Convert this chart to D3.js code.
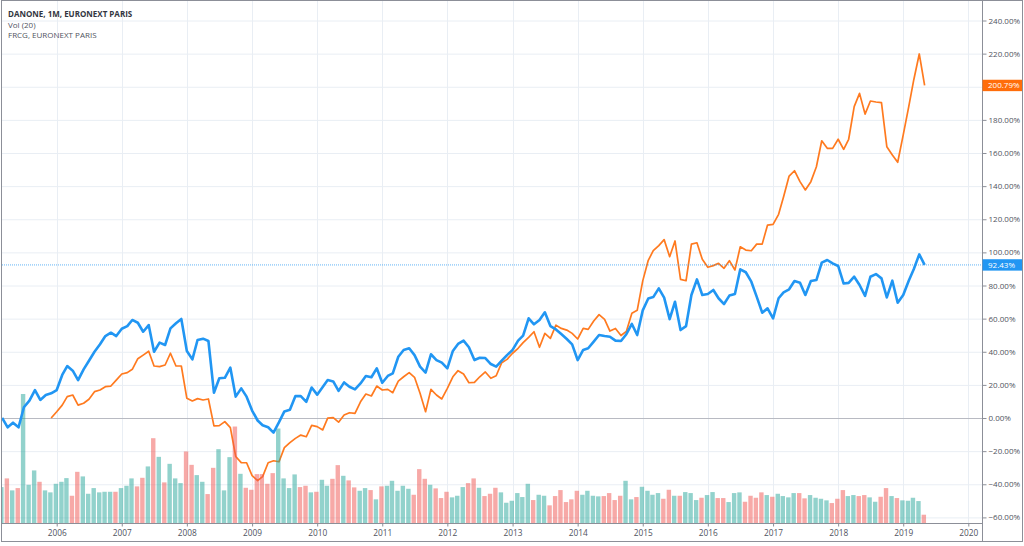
<!DOCTYPE html>
<html>
<head>
<meta charset="utf-8">
<script src="https://cdn.jsdelivr.net/npm/d3@7/dist/d3.min.js"></script>
<style>
  body { margin: 0; background: #ffffff; }
  svg { display: block; font-family: "Open Sans", "Noto Sans", sans-serif; }
</style>
</head>
<body>
<svg id="chart" width="1024" height="546"></svg>
<script>
// monthly bars, first bar March 2005, last bar May 2019
const firstMonth = new Date(Date.UTC(2005, 2, 1));
const lastMonth = new Date(Date.UTC(2019, 4, 1));

// DANONE, % change (compare mode)
const danone = [
  0, -5.6, -2.8, -5.6, 6.5, 10.5, 16.9, 10.9, 13.9, 14.9, 16.9, 26, 31.4, 28.6, 22.9, 29.4,
  34.6, 40, 44.5, 49.5, 51.5, 49.5, 53.9, 55.5, 59.2, 57.5, 52.1, 56.1, 40, 45.5, 44.1, 54.1,
  57.2, 59.8, 40.5, 35.4, 47.1, 47.9, 46.5, 15.3, 24, 24.3, 30.4, 12.9, 17.9, 12.9, 4.5, -1.5,
  -4.4, -5.6, -8.8, -2.5, 4, 5, 13.3, 13.2, 9.8, 18.4, 14.1, 18.7, 22.9, 22.1, 16.4,
  21.5, 18.9, 17.3, 20.9, 25.4, 24.6, 30, 21.3, 25.4, 27, 37, 41.1, 42.1, 38, 31, 27.4,
  38.5, 35, 33.4, 30, 40.5, 44.7, 46.7, 42.7, 35, 36.4, 36.2, 32.6, 31, 34.6, 38, 41.1,
  46.7, 49.7, 60.2, 56.6, 59.2, 63.8, 55.5, 53.5, 50.7, 47.7, 44.5, 35, 41.1, 42.1, 46.1, 50.1,
  49.5, 49.1, 46.7, 46.5, 50.6, 56.8, 50.1, 65, 72.2, 73, 78.3, 72.7, 59.7,
  70.2, 53.1, 55.5, 74.3, 83.7, 74.3, 74.9, 77.3, 72.3, 68.8, 73.9, 74.9, 89.8, 88, 82.3, 73.3,
  63.6, 66.2, 60.2, 72.3, 75.9, 77.7, 82.7, 81.7, 74.3, 82.7, 83.3, 93.8, 95.4, 93.4, 91.8, 81.2,
  81.6, 85.3, 80.3, 73.7, 85.3, 86.9, 84.3, 72.8, 82.9, 69.6, 74.3, 82.9, 89.8, 98.8, 92.43
];

// FRCG, % change, starts in Dec 2005
const frcg = [
  null, null, null, null, null, null, null, null, null,
  0, 3.8, 7.8, 12.9, 13.9, 7.8, 8.9, 11.3, 15.9, 16.9, 18.9, 19.3, 22.9, 26.6, 27.4, 29.4,
  35.8, 38, 40.3, 31.4, 31, 32, 39.1, 31.4, 31.4, 11.9, 10.3, 11.7, 10.9, 11.5, -4.7, -4.6,
  -2.2, -5.8, -23.2, -26.9, -27, -34.8, -37.8, -35.4, -27, -25.8, -26.4, -17.9, -14.9, -12.3,
  -10.3, -11.3, -4.4, -5.2, -7.2, -0.1, 0.2, -2.5,
  1.8, 3.2, 2.8, 9.8, 14.5, 13.3, 19.3, 16.9, 17.3, 15.3, 22.3, 24.9, 27.4, 24.6, 14.9, 3.8,
  17.3, 13.9, 11.5, 17.9, 24.9, 28.6, 26.6, 21.3, 21.5, 24.9, 27.8, 24, 25.5, 33.4, 35.4, 39.1,
  42.1, 45.5, 48.7, 52.1, 42.7, 51.1, 48.1, 56.1, 54.1, 53.1, 51.1, 47.7, 54.1, 53.5, 58.6, 62.4,
  59.6, 52.5, 54.1, 49.8, 52.3, 63.2, 65, 82.8, 95.2, 101, 104.1, 107.7, 97.4,
  106.9, 83.7, 82.9, 105, 105.8, 95.8, 91, 92, 93.4, 90.4, 95, 89.4, 103.4, 101.4, 101, 105,
  105, 116.5, 116.9, 123, 133.6, 146.1, 149.3, 142.7, 137.7, 142.7, 151.7, 167.4, 162.8, 162.8, 168.3, 162.2,
  168.3, 188, 196, 183.5, 191.4, 190.8, 190.4, 163.8, 158.8, 154.4, 170.9, 188, 204.1, 219.8, 200.79
];

// Vol (relative units)
const volume = [
  36, 44.7, 32.7, 35, 129.3, 38.3, 52.7, 41.3, 32.7, 30.7, 39.3, 41.3, 45, 27.3, 51.3, 46.7,
  29.3, 35, 30.7, 31.3, 31.3, 31.3, 35, 37.3, 44.7, 36.7, 45.3, 56.7, 85, 66.3, 40.7, 59.3,
  44.7, 40, 71.7, 58.3, 48, 41.3, 29, 55.3, 74, 32.7, 66, 96.7, 49.3, 35.3, 33.3, 49,
  49, 39.3, 50, 94.7, 44.7, 35, 48.7, 36, 37.3, 30.7, 31.3, 43.3, 37.3, 44.3, 58,
  47.3, 42.7, 35.7, 32.3, 35, 33, 23.7, 36.7, 37.3, 42.3, 32.3, 37.3, 34.3, 28.3, 54, 44.3,
  38.3, 34.7, 25, 31.3, 25.7, 27.3, 36, 40, 44.7, 35.3, 27, 29.3, 35.3, 30.7, 20.3, 22.3,
  30, 26, 39.3, 23, 28.3, 27.3, 17.7, 27, 33, 21, 23.7, 32.3, 28.3, 32.3, 27.3, 26.7,
  27, 30, 23, 27.3, 42.3, 23.7, 26, 36.3, 32.3, 28.3, 30, 24.3, 33.3,
  27.3, 27.3, 31, 30, 23, 25.3, 28, 31, 25, 25, 21, 30, 30.7, 21.3, 27.3, 25.3,
  30.7, 28, 26.3, 29.3, 27, 25.7, 30, 30, 24.7, 28, 25.3, 24.3, 22.7, 20, 24.3, 33,
  27, 28, 27, 28, 25.7, 21.3, 26.3, 35, 27, 25, 22.7, 22.3, 25.3, 22, 8.3
];

const yearTicks = d3.range(2006, 2021);
const pctTicks = d3.range(-60, 241, 20);
const legendLines = ["DANONE, 1M, EURONEXT PARIS", "Vol (20)", "FRCG, EURONEXT PARIS"];

const months = d3.utcMonth.range(firstMonth, d3.utcMonth.offset(lastMonth, 1));
const rows = months.map((m, i) => ({
  date: m,
  danone: danone[i],
  frcg: frcg[i],
  vol: volume[i],
  up: i === 0 || danone[i] >= danone[i - 1]
}));

// pane geometry
const paneLeft = 2, paneRight = 982, paneTop = 1, paneBottom = 523;

const svg = d3.select("#chart");

const x = d3.scaleUtc()
  .domain([new Date(Date.UTC(2006, 0, 1)), new Date(Date.UTC(2020, 0, 1))])
  .range([56.7, 968.3]);

const y = d3.scaleLinear().domain([-60, 240]).range([517.4, 20.5]);

const yVol = d3.scaleLinear()
  .domain([0, d3.max(volume)])
  .range([paneBottom, paneBottom - 129]);

const yearDate = yr => new Date(Date.UTC(yr, 0, 1));

svg.append("defs").append("clipPath").attr("id", "pane")
  .append("rect")
  .attr("x", paneLeft).attr("y", paneTop)
  .attr("width", paneRight - paneLeft).attr("height", paneBottom - paneTop);

// grid
const grid = svg.append("g");
grid.selectAll("line.h")
  .data(pctTicks.filter(d => d !== 0))
  .join("line")
  .attr("x1", paneLeft).attr("x2", paneRight)
  .attr("y1", d => y(d) + 0.5).attr("y2", d => y(d) + 0.5)
  .attr("stroke", "#e9eef4");
grid.selectAll("line.v")
  .data(yearTicks)
  .join("line")
  .attr("x1", d => Math.round(x(yearDate(d))) + 0.5)
  .attr("x2", d => Math.round(x(yearDate(d))) + 0.5)
  .attr("y1", paneTop).attr("y2", paneBottom)
  .attr("stroke", "#e9eef4");

// zero line
grid.append("line")
  .attr("x1", paneLeft).attr("x2", paneRight)
  .attr("y1", Math.round(y(0)) + 0.5).attr("y2", Math.round(y(0)) + 0.5)
  .attr("stroke", "#b8bac2");

const plot = svg.append("g").attr("clip-path", "url(#pane)");

// FRCG line sits under the volume bars
plot.append("path")
  .datum(rows)
  .attr("fill", "none")
  .attr("stroke", "#ff7a1f")
  .attr("stroke-width", 1.7)
  .attr("stroke-linejoin", "round")
  .attr("d", d3.line()
    .defined(d => d.frcg != null)
    .x(d => x(d.date))
    .y(d => y(d.frcg)));

// volume
const barW = 4.4;
plot.append("g")
  .selectAll("rect")
  .data(rows)
  .join("rect")
  .attr("x", d => x(d.date) - barW / 2 - 0.8)
  .attr("width", barW)
  .attr("y", d => yVol(d.vol))
  .attr("height", d => paneBottom - yVol(d.vol))
  .attr("fill", d => d.up ? "#26a69a" : "#ef5350")
  .attr("fill-opacity", 0.5);

// last value dotted line for DANONE
plot.append("line")
  .attr("x1", paneLeft).attr("x2", paneRight)
  .attr("y1", y(danone[danone.length - 1])).attr("y2", y(danone[danone.length - 1]))
  .attr("stroke", "#2196f3")
  .attr("stroke-opacity", 0.7)
  .attr("stroke-dasharray", "1 1");

plot.append("path")
  .datum(rows)
  .attr("fill", "none")
  .attr("stroke", "#2196f3")
  .attr("stroke-width", 2.6)
  .attr("stroke-linejoin", "round")
  .attr("d", d3.line()
    .x(d => x(d.date))
    .y(d => y(d.danone)));

// right price axis
const fmtPct = d => (d < 0 ? "\u2212" : "") + Math.abs(d).toFixed(2) + "%";
const yAxis = svg.append("g")
  .attr("transform", `translate(${paneRight + 0.5},0)`)
  .call(d3.axisRight(y).tickValues(pctTicks).tickSize(4).tickPadding(2).tickFormat(fmtPct));
yAxis.select(".domain").remove();
yAxis.selectAll(".tick line").attr("stroke", "#8c8f98");
yAxis.selectAll(".tick text")
  .attr("fill", "#50535e")
  .style("font-size", "8px")
  .style("font-family", "'Open Sans', sans-serif");

// time axis
const xAxis = svg.append("g")
  .attr("transform", `translate(0,${paneBottom + 0.5})`)
  .call(d3.axisBottom(x).tickValues(yearTicks.map(yearDate)).tickSize(3).tickPadding(4)
    .tickFormat(d3.utcFormat("%Y")));
xAxis.select(".domain").remove();
xAxis.selectAll(".tick line").attr("stroke", "#8c8f98");
xAxis.selectAll(".tick text")
  .attr("fill", "#50535e")
  .style("font-size", "8.3px")
  .style("font-family", "'Open Sans', sans-serif");

// frame
const frame = svg.append("g").attr("stroke", "#8c8f98").attr("fill", "none");
frame.append("line").attr("x1", paneLeft).attr("x2", paneRight).attr("y1", paneBottom + 0.5).attr("y2", paneBottom + 0.5);
frame.append("line").attr("x1", paneRight + 0.5).attr("x2", paneRight + 0.5).attr("y1", 0).attr("y2", 542);
frame.append("rect").attr("x", 1.5).attr("y", 0.5).attr("width", 1021).attr("height", 541);

// last value labels on the price axis
function priceLabel(value, color) {
  const g = svg.append("g").attr("transform", `translate(${paneRight + 0.5},${y(value)})`);
  g.append("rect")
    .attr("x", 0).attr("y", -5.7)
    .attr("width", 39.5).attr("height", 11.4)
    .attr("fill", color);
  g.append("text")
    .attr("x", 5.5).attr("dy", "0.34em")
    .attr("fill", "#ffffff")
    .style("font-size", "8px")
    .text(fmtPct(value));
}
priceLabel(frcg[frcg.length - 1], "#ff6d0a");
priceLabel(danone[danone.length - 1], "#2196f3");

// legend
svg.append("g")
  .selectAll("text")
  .data(legendLines)
  .join("text")
  .attr("x", 8)
  .attr("y", (d, i) => 16.8 + i * 10.7)
  .attr("fill", d => d.startsWith("DANONE") ? "#333640" : "#50535e")
  .style("font-weight", d => d.startsWith("DANONE") ? "bold" : "normal")
  .style("font-size", "8px")
  .text(d => d);
</script>
</body>
</html>
